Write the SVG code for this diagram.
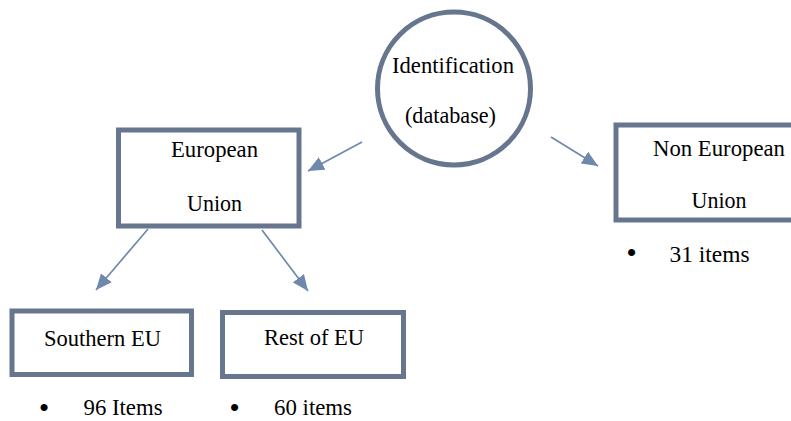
<svg xmlns="http://www.w3.org/2000/svg" width="791" height="421" viewBox="0 0 791 421">
<defs>
<marker id="ah" viewBox="0 0 16 14" refX="16" refY="7" markerWidth="16" markerHeight="14" markerUnits="userSpaceOnUse" orient="auto">
<path d="M0,0 L16,7 L0,14 z" fill="#6f88ad"/>
</marker>
</defs>
<rect width="791" height="421" fill="#fff"/>
<g id="connectors" stroke="#6f88ad" stroke-width="1.7" fill="none">
<line x1="362" y1="142" x2="308" y2="171" marker-end="url(#ah)"/>
<line x1="551" y1="137" x2="598" y2="166" marker-end="url(#ah)"/>
<line x1="148" y1="229" x2="96" y2="290" marker-end="url(#ah)"/>
<line x1="262" y1="230" x2="308" y2="291" marker-end="url(#ah)"/>
</g>
<g id="identification">
<circle cx="454" cy="88.5" r="76.5" fill="#fff" stroke="#67768f" stroke-width="5"/>
<text transform="translate(392,73) scale(0.5)" font-family="Liberation Serif" font-size="45" textLength="244" lengthAdjust="spacingAndGlyphs">Identification</text>
<text transform="translate(405,123) scale(0.5)" font-family="Liberation Serif" font-size="45" textLength="182" lengthAdjust="spacingAndGlyphs">(database)</text>
</g>
<g id="eu">
<rect x="118.5" y="130" width="180.5" height="96" fill="#fff" stroke="#67768f" stroke-width="5"/>
<text transform="translate(171,157) scale(0.5)" font-family="Liberation Serif" font-size="45" textLength="174" lengthAdjust="spacingAndGlyphs">European</text>
<text transform="translate(187,210.5) scale(0.5)" font-family="Liberation Serif" font-size="45" textLength="110" lengthAdjust="spacingAndGlyphs">Union</text>
</g>
<g id="noneu">
<rect x="616" y="125" width="185" height="95" fill="#fff" stroke="#67768f" stroke-width="5"/>
<text transform="translate(653,155.5) scale(0.5)" font-family="Liberation Serif" font-size="45" textLength="264" lengthAdjust="spacingAndGlyphs">Non European</text>
<text transform="translate(691.5,208) scale(0.5)" font-family="Liberation Serif" font-size="45" textLength="110" lengthAdjust="spacingAndGlyphs">Union</text>
</g>
<g id="southern">
<rect x="12" y="311" width="179.5" height="63.5" fill="#fff" stroke="#67768f" stroke-width="5"/>
<text transform="translate(44,346) scale(0.5)" font-family="Liberation Serif" font-size="45" textLength="234" lengthAdjust="spacingAndGlyphs">Southern EU</text>
</g>
<g id="rest">
<rect x="222.5" y="312.5" width="181" height="64" fill="#fff" stroke="#67768f" stroke-width="5"/>
<text transform="translate(264,345) scale(0.5)" font-family="Liberation Serif" font-size="45" textLength="200" lengthAdjust="spacingAndGlyphs">Rest of EU</text>
</g>
<g id="item-lists">
<text x="44" y="416" font-family="Liberation Sans" font-size="26" text-anchor="middle">•</text>
<text transform="translate(83.5,414.5) scale(0.5)" font-family="Liberation Serif" font-size="45" textLength="158" lengthAdjust="spacingAndGlyphs">96 Items</text>
<text x="234.5" y="416" font-family="Liberation Sans" font-size="26" text-anchor="middle">•</text>
<text transform="translate(274,414.5) scale(0.5)" font-family="Liberation Serif" font-size="45" textLength="156" lengthAdjust="spacingAndGlyphs">60 items</text>
<text x="631.5" y="261" font-family="Liberation Sans" font-size="26" text-anchor="middle">•</text>
<text transform="translate(669.5,261.5) scale(0.5)" font-family="Liberation Serif" font-size="45" textLength="160" lengthAdjust="spacingAndGlyphs">31 items</text>
</g>
</svg>
